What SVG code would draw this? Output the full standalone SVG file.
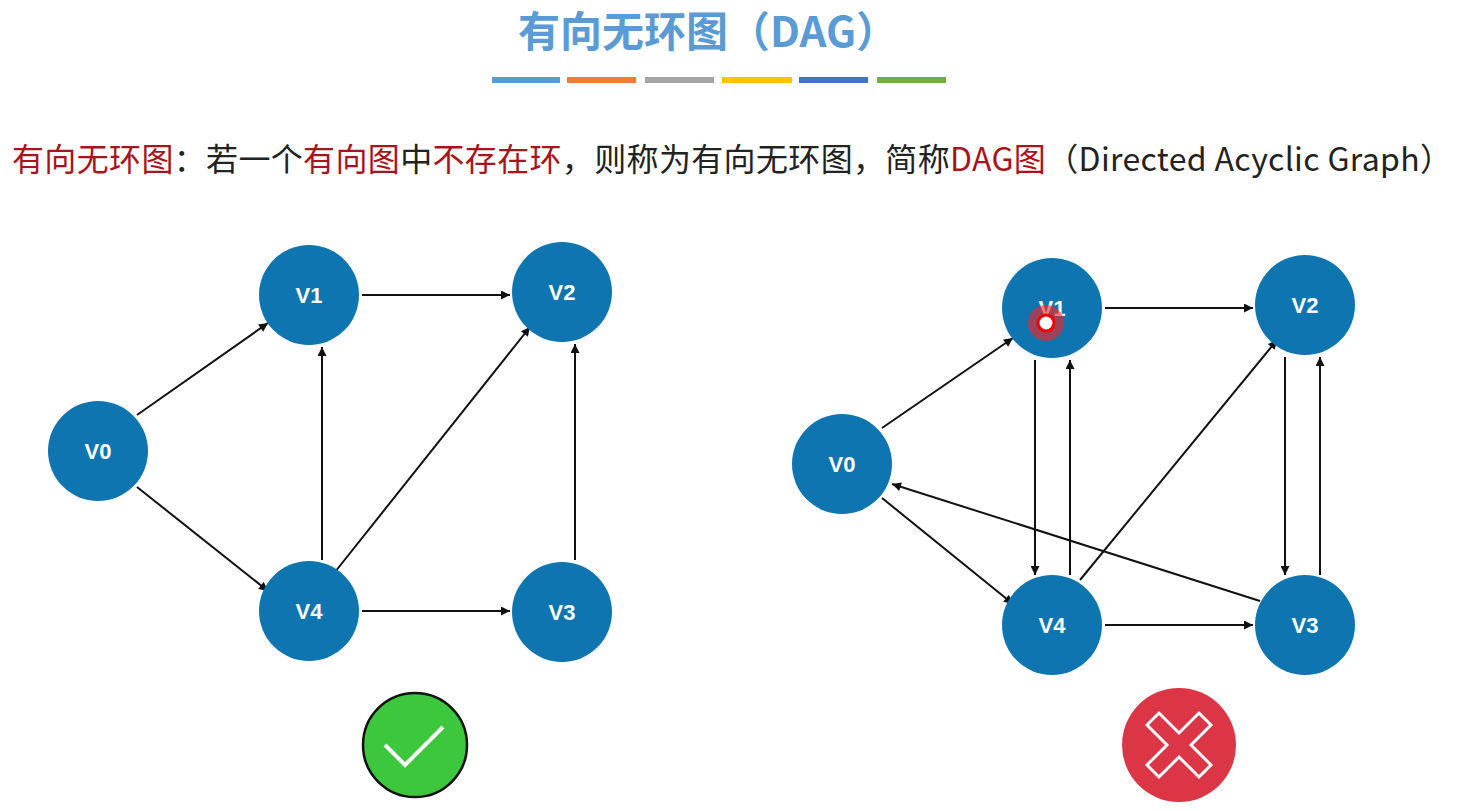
<svg xmlns="http://www.w3.org/2000/svg" width="1459" height="811" viewBox="0 0 1459 811">
<style>
.n circle{fill:#0f75b0}
.n text{fill:#fff;font:bold 22px "Liberation Sans","Noto Sans",sans-serif;text-anchor:middle;dominant-baseline:central}
#edges line{stroke:#111;stroke-width:2;marker-end:url(#a)}
.r{fill:#a8141c}
</style>
<defs><marker id="a" viewBox="0 0 10 10" refX="10" refY="5" markerWidth="10" markerHeight="9" orient="auto" markerUnits="userSpaceOnUse"><path d="M0,0L10,5L0,10z" fill="#111"/></marker></defs>
<rect width="1459" height="811" fill="#fff"/>
<text x="708" y="47" text-anchor="middle" font-family="Noto Sans CJK SC,sans-serif" font-size="42" font-weight="bold" fill="#5b9bd5">有向无环图（DAG）</text>
<rect x="492" y="77" width="68" height="6" fill="#5b9bd5"/><rect x="567" y="77" width="69" height="6" fill="#ed7d31"/><rect x="645" y="77" width="69" height="6" fill="#a5a5a5"/><rect x="722" y="77" width="70" height="6" fill="#ffc000"/><rect x="799" y="77" width="69" height="6" fill="#4472c4"/><rect x="877" y="77" width="69" height="6" fill="#70ad47"/>
<text x="12" y="171" font-family="Noto Sans CJK SC,sans-serif" font-size="32" fill="#222" textLength="1440" lengthAdjust="spacing"><tspan class="r">有向无环图</tspan>：若一个<tspan class="r">有向图</tspan>中<tspan class="r">不存在环</tspan>，则称为有向无环图，简称<tspan class="r">DAG图</tspan>（Directed Acyclic Graph）</text>
<g id="edges">
<line x1="137" y1="415" x2="268" y2="323"/><line x1="137" y1="487" x2="268" y2="591"/><line x1="362" y1="295" x2="510" y2="295"/><line x1="322" y1="560" x2="322" y2="347"/><line x1="335" y1="572" x2="530" y2="327"/><line x1="362" y1="611" x2="510" y2="611"/><line x1="575" y1="560" x2="575" y2="344"/>
<line x1="882" y1="428" x2="1013" y2="338"/><line x1="882" y1="498" x2="1013" y2="604"/><line x1="1105" y1="308" x2="1253" y2="308"/><line x1="1035" y1="360" x2="1035" y2="575"/><line x1="1070" y1="575" x2="1070" y2="360"/><line x1="1080" y1="580" x2="1277" y2="340"/><line x1="1285" y1="357" x2="1285" y2="575"/><line x1="1320" y1="575" x2="1320" y2="357"/><line x1="1105" y1="625" x2="1253" y2="625"/><line x1="1260" y1="601" x2="892" y2="484"/>
</g>
<g id="L-V0" class="n"><circle cx="98" cy="451" r="50"/><text x="98" y="451">V0</text></g>
<g id="L-V1" class="n"><circle cx="309" cy="295" r="50"/><text x="309" y="295">V1</text></g>
<g id="L-V2" class="n"><circle cx="562" cy="292" r="50"/><text x="562" y="292">V2</text></g>
<g id="L-V3" class="n"><circle cx="562" cy="612" r="50"/><text x="562" y="612">V3</text></g>
<g id="L-V4" class="n"><circle cx="309" cy="611" r="50"/><text x="309" y="611">V4</text></g>
<g id="R-V0" class="n"><circle cx="842" cy="464" r="50"/><text x="842" y="464">V0</text></g>
<g id="R-V1" class="n"><circle cx="1052" cy="308" r="50"/><text x="1052" y="308">V1</text></g>
<g id="R-V2" class="n"><circle cx="1305" cy="305" r="50"/><text x="1305" y="305">V2</text></g>
<g id="R-V3" class="n"><circle cx="1305" cy="625" r="50"/><text x="1305" y="625">V3</text></g>
<g id="R-V4" class="n"><circle cx="1052" cy="625" r="50"/><text x="1052" y="625">V4</text></g>
<circle cx="1046" cy="323" r="18" fill="#ff2020" opacity="0.6"/><circle cx="1046" cy="323" r="8" fill="#fff" stroke="#e00" stroke-width="3"/>
<g id="ok"><circle cx="415" cy="745" r="52" fill="#3cc73c" stroke="#111" stroke-width="2.5"/><path d="M385,745L405,765L443,727" fill="none" stroke="#fff" stroke-width="4"/></g>
<g id="no"><circle cx="1179" cy="745" r="57" fill="#dc3545"/><path d="M1147,725L1159,713L1179,733L1199,713L1211,725L1191,745L1211,765L1199,777L1179,757L1159,777L1147,765L1167,745Z" fill="none" stroke="#fff" stroke-width="3"/></g>
</svg>
